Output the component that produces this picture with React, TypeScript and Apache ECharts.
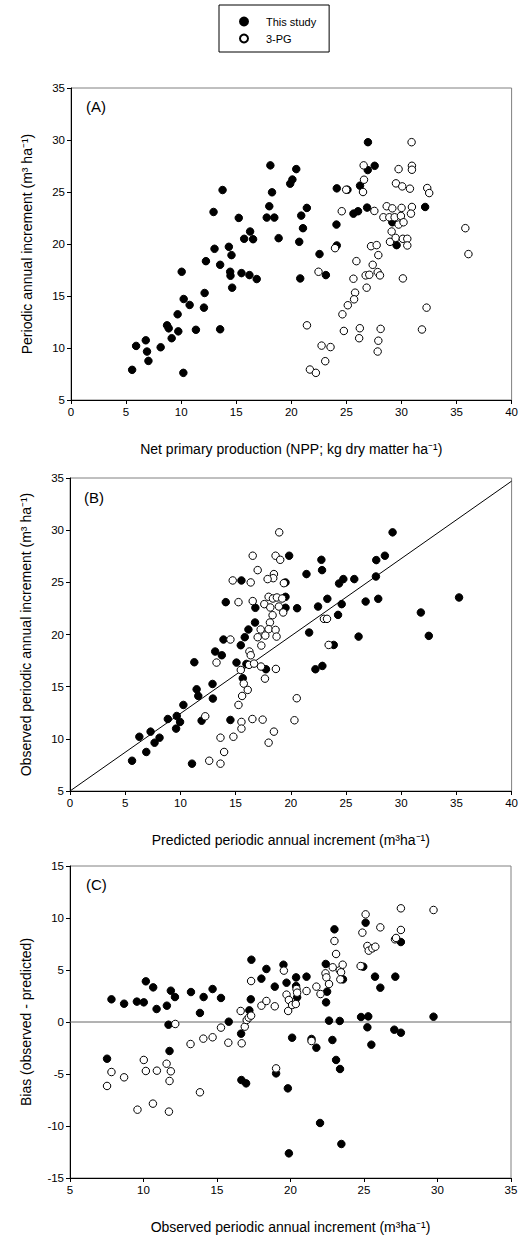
import React, { useEffect, useRef } from "react";
import * as echarts from "echarts";

const FONT = "'Liberation Sans', Arial, Helvetica, sans-serif";

const legendNames = ["This study", "3-PG"];
const panelLabels = ["(A)", "(B)", "(C)"];
const xTitles = [
  "Net primary production (NPP; kg dry matter ha⁻¹)",
  "Predicted periodic annual increment (m³ha⁻¹)",
  "Observed periodic annual increment (m³ha⁻¹)",
];
const yTitles = [
  "Periodic annual increment (m³ ha⁻¹)",
  "Observed periodic annual increment (m³ ha⁻¹)",
  "Bias (observed - predicted)",
];

// Panel A: NPP vs observed PAI
const panelAThisStudy = [
  [18.1, 27.56], [13.76, 25.19], [18.25, 24.97], [18.0, 23.63], [17.77, 22.54], [18.46, 22.54],
  [12.94, 23.08], [15.23, 22.51], [16.26, 21.2], [15.72, 20.5], [16.53, 20.46], [18.85, 20.56],
  [14.33, 19.73], [13.03, 19.54], [14.57, 18.93], [12.25, 18.35], [13.54, 18.0],
  [10.05, 17.33], [14.45, 17.33], [14.48, 16.95], [15.48, 17.2], [16.2, 17.01], [16.86, 16.63],
  [14.63, 15.8], [12.13, 15.29], [10.23, 14.71], [10.77, 14.14], [12.07, 13.88], [9.68, 13.24],
  [20.81, 16.69], [8.72, 12.18], [8.87, 11.89], [9.74, 11.6], [11.34, 11.75], [13.54, 11.8],
  [6.79, 10.74], [5.91, 10.2], [8.14, 10.07], [6.9, 9.66], [7.03, 8.76], [5.55, 7.9], [10.2, 7.61],
  [9.14, 10.94],
  [19.9, 25.8], [20.1, 26.2], [20.45, 27.2], [21.41, 23.47], [20.9, 22.73], [21.06, 21.52],
  [20.72, 20.21], [22.56, 19.03], [23.14, 17.01], [24.13, 25.35], [25.1, 25.22], [24.1, 21.87],
  [25.64, 22.92], [26.06, 23.15], [24.13, 19.86], [26.88, 23.5], [26.24, 25.61], [26.96, 29.79],
  [26.94, 27.11], [27.57, 27.52], [29.17, 22.09], [29.56, 19.89], [32.15, 23.56],
];
const panelA3PG = [
  [30.92, 29.79], [26.57, 27.56], [29.74, 27.2], [30.95, 27.52], [30.95, 27.14], [26.6, 26.18],
  [24.98, 25.22], [26.51, 25.0], [29.5, 25.83], [30.07, 25.54], [30.77, 25.32], [32.34, 25.38],
  [32.52, 24.9], [24.58, 23.15], [27.54, 23.18], [28.66, 23.63], [29.17, 23.43], [30.01, 23.47],
  [30.95, 23.56], [30.86, 22.92], [28.36, 22.57], [28.9, 22.57], [29.38, 22.57], [29.95, 22.7],
  [29.74, 21.87], [30.19, 22.09], [29.11, 21.2], [28.96, 20.21], [29.47, 20.59], [30.13, 20.5],
  [30.53, 20.5], [30.53, 19.86], [35.8, 21.52], [36.08, 19.03], [23.97, 19.6], [27.24, 19.79],
  [27.75, 19.89], [27.9, 18.93], [25.91, 18.35], [27.39, 18.0], [22.47, 17.33], [25.64, 16.66],
  [26.75, 16.98], [27.08, 17.04], [27.84, 17.3], [28.05, 16.98], [30.13, 16.69], [26.84, 15.8],
  [25.79, 15.32], [25.7, 14.68], [25.13, 14.11], [24.64, 13.24], [32.28, 13.88], [21.42, 12.18],
  [24.77, 11.64], [26.22, 11.9], [28.11, 11.84], [31.86, 11.78], [26.16, 10.94], [27.9, 10.7],
  [27.84, 9.66], [22.75, 10.23], [23.56, 10.09], [23.08, 8.73], [21.69, 7.93], [22.23, 7.61],
];

// Panel B: predicted vs observed PAI
const panelBThisStudy = [
  [5.62, 7.9], [6.28, 10.2], [6.91, 8.74], [7.3, 10.69], [7.66, 9.63], [8.11, 10.11], [8.86, 11.9],
  [9.61, 10.98], [9.67, 12.19], [9.97, 11.62], [10.27, 13.25], [11.05, 7.62], [11.26, 17.34],
  [11.47, 14.75], [11.62, 14.11], [11.92, 11.74], [12.91, 15.26], [12.94, 13.86], [13.15, 18.37],
  [13.75, 18.01], [13.9, 19.52], [14.11, 23.1], [14.53, 11.81], [15.08, 17.31], [15.47, 18.97],
  [15.53, 25.18], [15.65, 15.81], [15.83, 19.74], [15.98, 17.18], [16.16, 20.48], [16.79, 22.56],
  [16.76, 21.15], [17.75, 16.67],
  [19.85, 27.55], [19.52, 24.99], [19.52, 23.61], [19.52, 22.56], [20.57, 22.52], [21.42, 25.79],
  [22.77, 27.16], [22.83, 26.17], [21.66, 20.19], [22.47, 22.68], [23.31, 23.42], [22.23, 16.67],
  [22.86, 16.99], [23.89, 19.0], [24.37, 24.89], [24.76, 25.31], [24.61, 22.91], [24.28, 21.88],
  [25.75, 25.31], [26.78, 23.16], [26.14, 19.8], [27.74, 27.13], [28.52, 27.55], [27.71, 25.56],
  [27.92, 23.42], [29.22, 29.79], [31.78, 22.11], [32.5, 19.87], [35.24, 23.55],
];
const panelB3PG = [
  [18.95, 29.79], [16.55, 27.55], [18.62, 27.55], [19.04, 27.16], [17.0, 26.17], [14.74, 25.18],
  [16.37, 24.99], [18.47, 25.79], [18.41, 25.4], [17.9, 25.31], [19.37, 24.92], [15.26, 23.1],
  [16.55, 23.2], [17.6, 22.91], [17.99, 23.61], [18.38, 23.45], [18.74, 23.55], [19.22, 23.45],
  [18.14, 22.59], [18.92, 22.68], [19.31, 22.11], [18.35, 21.85], [18.11, 21.15], [17.27, 20.48],
  [17.99, 20.51], [18.62, 20.44], [17.0, 19.74], [17.69, 19.9], [18.71, 19.8], [14.53, 19.52],
  [17.33, 18.94], [16.25, 18.37], [16.37, 18.01], [13.27, 17.31], [15.47, 16.6], [16.22, 17.09],
  [16.67, 17.21], [17.3, 16.93], [18.65, 16.7], [15.74, 15.29], [16.1, 14.69], [15.59, 14.11],
  [17.66, 15.77], [15.26, 13.25], [12.25, 12.16], [15.53, 11.62], [16.52, 11.9], [17.45, 11.84],
  [15.53, 10.98], [18.47, 10.69], [13.63, 10.11], [14.8, 10.2], [13.96, 8.74], [17.99, 9.63],
  [12.61, 7.9], [13.63, 7.62], [23.0, 21.5], [23.28, 21.5], [23.43, 19.0], [20.54, 13.89],
  [20.33, 11.78],
];
const panelBLine = [[0, 5], [40, 34.7]];

// Panel C: observed vs bias
const panelCThisStudy = [
  [7.82, 2.18], [8.68, 1.76], [9.55, 1.96], [10.02, 1.89], [10.16, 3.91], [10.66, 3.33], [10.89, 1.25],
  [11.59, 1.57], [11.86, 3.01], [12.14, 2.4], [11.7, -0.26], [11.77, -2.79], [13.23, 2.88],
  [13.84, 0.87], [14.09, 2.4], [14.7, 3.17], [15.27, 2.31], [15.8, 0.03], [16.64, -1.12],
  [17.3, 2.18], [17.2, 1.12], [17.34, 5.99], [18.02, 4.17], [18.36, 5.1], [18.93, 3.4], [19.52, 5.51],
  [19.73, 3.78], [7.52, -3.53], [16.66, -5.58], [16.98, -5.9], [19.02, -4.94], [19.82, -6.38],
  [19.89, -12.63], [20.11, -1.51], [20.38, 4.29], [20.38, 3.46], [20.45, 2.37], [21.09, 4.36],
  [21.76, -2.47], [21.43, -1.63], [22.01, -9.71], [22.4, 5.58], [22.49, 2.92], [22.42, 1.89],
  [22.99, 8.91], [22.62, 0.13], [22.85, -1.73], [23.1, -3.65], [23.37, -4.52], [23.35, 0.1],
  [23.57, 4.1], [23.46, -11.73], [24.8, 0.48], [25.29, 0.54], [25.11, 9.55], [24.95, 5.32],
  [25.23, -0.51], [25.5, -2.18], [25.75, 4.36], [26.11, 3.3], [27.13, 4.36], [27.06, -0.74],
  [27.51, -1.03], [27.51, 7.69], [29.73, 0.51],
];
const panelC3PG = [
  [7.52, -6.15], [7.82, -4.81], [8.68, -5.32], [9.59, -8.43], [10.02, -3.65], [10.16, -4.71],
  [10.64, -7.85], [10.91, -4.68], [11.57, -4.01], [11.86, -4.74], [11.77, -5.67], [11.73, -8.62],
  [12.16, -0.19], [13.2, -2.12], [13.84, -6.76], [14.07, -1.6], [14.7, -1.47], [15.27, -0.54],
  [15.77, -1.99], [16.68, -2.05], [16.61, 1.06], [16.89, -0.45], [17.02, 0.19], [17.16, 0.42],
  [17.32, 0.61], [17.32, 3.94], [18.02, 1.57], [18.36, 2.02], [18.93, 1.51], [19.02, -4.46],
  [19.55, 4.94], [19.73, 2.63], [19.89, 2.12], [19.84, 1.06], [20.11, 1.63], [20.36, 1.73],
  [20.41, 3.17], [20.45, 2.82], [21.09, 2.98], [21.43, -1.83], [21.76, 3.4], [22.04, 2.69],
  [22.38, 4.68], [22.44, 4.29], [22.62, 3.65], [22.87, 5.26], [22.99, 7.79], [23.1, 6.54],
  [23.35, 4.97], [23.44, 4.78], [23.39, 4.1], [23.55, 5.51], [24.77, 5.38], [24.89, 8.59],
  [25.11, 10.35], [25.23, 7.31], [25.32, 6.86], [25.57, 7.08], [25.77, 7.24], [26.11, 9.1],
  [27.11, 7.95], [27.18, 8.08], [27.51, 8.85], [27.51, 10.93], [29.73, 10.77],
];
const panelCZeroLine = [[5, 0], [35, 0]];

const xRanges = [[0, 40], [0, 40], [5, 35]];
const yRanges = [[5, 35], [5, 35], [-15, 15]];

export default function App() {
  const ref = useRef<HTMLDivElement>(null);

  useEffect(() => {
    if (!ref.current) return;
    const chart = echarts.init(ref.current, undefined, { renderer: "svg" });

    const grids = [
      { left: 71, top: 88, width: 441, height: 312 },
      { left: 70, top: 478, width: 442, height: 313 },
      { left: 70, top: 866, width: 441, height: 312 },
    ].map((g) => ({ ...g, show: true, borderColor: "#808080", borderWidth: 1, backgroundColor: "transparent" }));

    const axisCommon = {
      type: "value" as const,
      interval: 5,
      nameLocation: "middle" as const,
      nameTextStyle: { fontSize: 14, color: "#000", fontFamily: FONT },
      axisLine: { show: true, onZero: false, lineStyle: { color: "#000", width: 1 } },
      axisTick: { show: true, inside: false, length: 4, lineStyle: { color: "#000", width: 1 } },
      axisLabel: { fontSize: 11.5, color: "#000", fontFamily: FONT, margin: 6, showMinLabel: true, showMaxLabel: true },
      splitLine: { show: false },
    };

    const xAxes = [0, 1, 2].map((i) => ({
      ...axisCommon,
      gridIndex: i,
      min: xRanges[i][0],
      max: xRanges[i][1],
      name: xTitles[i],
      nameGap: 42,
    }));
    const yAxes = [0, 1, 2].map((i) => ({
      ...axisCommon,
      gridIndex: i,
      min: yRanges[i][0],
      max: yRanges[i][1],
      name: yTitles[i],
      nameGap: 37,
      nameRotate: 90,
    }));

    const filledStyle = { color: "#000", borderColor: "#000", borderWidth: 1, opacity: 1 };
    const openStyle = { color: "#fff", borderColor: "#000", borderWidth: 1, opacity: 1 };

    const filledData = [panelAThisStudy, panelBThisStudy, panelCThisStudy];
    const openData = [panelA3PG, panelB3PG, panelC3PG];

    const series: any[] = [];
    [0, 1, 2].forEach((i) => {
      series.push({
        type: "scatter",
        name: legendNames[0],
        xAxisIndex: i,
        yAxisIndex: i,
        data: filledData[i],
        symbol: "circle",
        symbolSize: 7.5,
        itemStyle: filledStyle,
        z: 3,
      });
    });
    series.push({
      type: "line",
      name: "fitB",
      xAxisIndex: 1,
      yAxisIndex: 1,
      data: panelBLine,
      showSymbol: false,
      symbol: "none",
      lineStyle: { color: "#000", width: 1 },
      z: 2,
    });
    series.push({
      type: "line",
      name: "zeroC",
      xAxisIndex: 2,
      yAxisIndex: 2,
      data: panelCZeroLine,
      showSymbol: false,
      symbol: "none",
      lineStyle: { color: "#666", width: 1 },
      z: 2,
    });
    [0, 1, 2].forEach((i) => {
      series.push({
        type: "scatter",
        name: legendNames[1],
        xAxisIndex: i,
        yAxisIndex: i,
        data: openData[i],
        symbol: "circle",
        symbolSize: 7.5,
        itemStyle: openStyle,
        z: 4,
      });
    });

    const labelTops = [99, 490, 877];
    const labelLefts = [86, 84, 86];

    chart.setOption({
      animation: false,
      backgroundColor: "#fff",
      textStyle: { fontFamily: FONT },
      legend: {
        data: legendNames,
        orient: "vertical",
        left: 219,
        top: 5,
        padding: [11, 13, 8, 20],
        itemWidth: 8,
        itemHeight: 8,
        itemGap: 6,
        borderColor: "#000",
        borderWidth: 1,
        selectedMode: false,
        textStyle: { fontSize: 11, color: "#000", fontFamily: FONT, padding: [0, 0, 0, 13] },
      },
      grid: grids,
      xAxis: xAxes,
      yAxis: yAxes,
      series,
      graphic: panelLabels.map((t, i) => ({
        type: "text",
        left: labelLefts[i],
        top: labelTops[i],
        style: { text: t, fontSize: 15, fill: "#000", fontFamily: FONT },
      })),
    });

    return () => chart.dispose();
  }, []);

  return (
    <div
      ref={ref}
      style={{ position: "absolute", left: 0, top: 0, width: 521, height: 1240, background: "#fff" }}
    />
  );
}
